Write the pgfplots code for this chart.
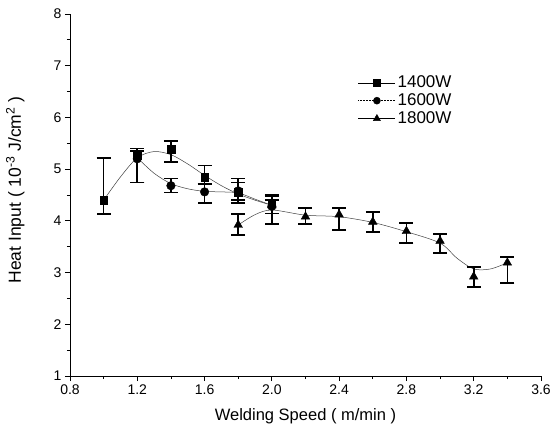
\documentclass[border=0pt]{standalone}
\usepackage{pgfplots}
\pgfplotsset{compat=1.18}
\usepackage{pgfplotstable}
\usepackage{fontspec}
\setmainfont{Liberation Sans}

\pgfplotstableread{
x y ep em
1.0 4.40 0.82 0.27
1.2 5.27 0.13 0.53
1.4 5.39 0.16 0.25
1.6 4.85 0.22 0.14
1.8 4.55 0.27 0.15
2.0 4.34 0.16 0.20
}\dataA
\pgfplotstableread{
x y ep em
1.2 5.20 0.15 0.46
1.4 4.68 0.14 0.13
1.6 4.56 0.15 0.21
1.8 4.58 0.16 0.24
2.0 4.28 0.12 0.33
}\dataB
\pgfplotstableread{
x y ep em
1.8 3.92 0.21 0.19
2.0 4.30 0.18 0.36
2.2 4.08 0.17 0.14
2.4 4.12 0.13 0.30
2.6 3.98 0.19 0.19
2.8 3.80 0.16 0.23
3.0 3.61 0.14 0.23
3.2 2.92 0.19 0.20
3.4 3.19 0.11 0.39
}\dataC

\begin{document}
\begin{tikzpicture}
\begin{axis}[
  scale only axis, width=471pt, height=362pt,
  xmin=0.8, xmax=3.6, ymin=1, ymax=8,
  axis lines*=left,
  axis line style={line width=0.8pt},
  xtick={0.8,1.2,1.6,2.0,2.4,2.8,3.2,3.6},
  ytick={1,2,3,4,5,6,7,8},
  minor x tick num=1, minor y tick num=1,
  tick align=outside,
  major tick length=5pt, minor tick length=3pt,
  tick style={black, line width=0.8pt},
  xticklabel style={/pgf/number format/.cd, fixed, fixed zerofill, precision=1},
  /pgf/number format/assume math mode=true,
  ticklabel style={font=\fontsize{14}{16}\selectfont},
  xlabel={Welding Speed ( m/min )},
  ylabel={Heat Input ( 10\textsuperscript{-3} J/cm\textsuperscript{2} )},
  label style={font=\fontsize{16.5}{19}\selectfont},
  xlabel style={at={(axis description cs:0.5,-0.08)}, anchor=north},
  ylabel style={at={(axis description cs:-0.089,0.514)}, anchor=south, font=\fontsize{17.5}{19}\selectfont},
  legend style={draw=none, fill=none, at={(0.605,0.84)}, anchor=north west,
    font=\fontsize{17}{20}\selectfont, row sep=0.5pt},
  legend cell align=left,
  legend image code/.code={\draw[mark repeat=2,mark phase=2] plot coordinates {(0cm,0cm) (0.65cm,0cm) (1.3cm,0cm)};},
  clip=false,
]
\addlegendimage{black, line width=0.5pt, mark=square*, mark size=3.2pt}
\addlegendentry{1400W}
\addlegendimage{black, line width=0.5pt, dashed, dash pattern=on 1pt off 0.5pt, mark=*, mark size=3.5pt, mark options={solid}}
\addlegendentry{1600W}
\addlegendimage{black, line width=0.5pt, mark=triangle*, mark size=4pt}
\addlegendentry{1800W}

% fitted curves
\addplot[forget plot, smooth, black!75, line width=0.5pt] coordinates {
 (1.0,4.40) (1.1,4.85) (1.2,5.22) (1.3,5.34) (1.4,5.28) (1.5,5.10) (1.6,4.88) (1.7,4.68) (1.8,4.52) (1.9,4.40) (2.0,4.30)};
\addplot[forget plot, smooth, black!75, line width=0.5pt] coordinates {
 (1.2,5.22) (1.3,4.92) (1.4,4.72) (1.5,4.62) (1.6,4.57) (1.7,4.56) (1.8,4.54) (1.9,4.42) (2.0,4.30)};
\addplot[forget plot, smooth, black!75, line width=0.5pt] coordinates {
 (1.8,3.92) (1.9,4.12) (2.0,4.21) (2.2,4.11) (2.4,4.08) (2.6,3.97) (2.8,3.79) (3.0,3.57) (3.1,3.28) (3.2,3.07) (3.3,3.07) (3.4,3.19)};

% markers with error bars
\addplot[forget plot, only marks, black, mark=square*, mark size=3.8pt,
  error bars/.cd, y dir=both, y explicit,
  error bar style={line width=1.6pt},
  error mark options={rotate=90, mark size=7pt, line width=1.6pt}]
  table[x=x, y=y, y error plus=ep, y error minus=em] {\dataA};
\addplot[forget plot, only marks, black, mark=*, mark size=4.3pt,
  error bars/.cd, y dir=both, y explicit,
  error bar style={line width=1.6pt},
  error mark options={rotate=90, mark size=7pt, line width=1.6pt}]
  table[x=x, y=y, y error plus=ep, y error minus=em] {\dataB};
\addplot[forget plot, only marks, black, mark=triangle*, mark size=5pt,
  error bars/.cd, y dir=both, y explicit,
  error bar style={line width=1.6pt},
  error mark options={rotate=90, mark size=7pt, line width=1.6pt}]
  table[x=x, y=y, y error plus=ep, y error minus=em] {\dataC};
\end{axis}
\pgfresetboundingbox
\path (-70pt,-58pt) rectangle (482pt,376pt);
\end{tikzpicture}
\end{document}
